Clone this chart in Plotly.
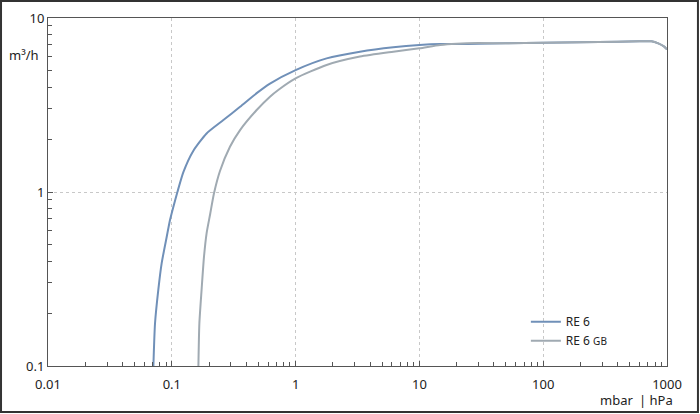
import plotly.graph_objects as go

# RE 6
re6_x = [0.0710, 0.0732, 0.0778, 0.0828, 0.091, 0.0967, 0.103, 0.111, 0.124, 0.149, 0.191, 0.261, 0.356,
         0.485, 0.621, 1.0, 1.78, 3.31, 6.15, 10, 14.7, 20, 30, 50, 100, 200, 400, 600, 750, 850, 950, 1000]
re6_y = [0.1, 0.176, 0.274, 0.389, 0.553, 0.690, 0.824, 1.0, 1.30, 1.72, 2.17, 2.59, 3.09,
         3.7, 4.2, 5.02, 5.86, 6.40, 6.79, 7.0, 7.09, 7.08, 7.12, 7.15, 7.2, 7.25, 7.3, 7.35, 7.35, 7.15, 6.85, 6.6]

# RE 6 GB
gb_x = [0.164, 0.167, 0.174, 0.182, 0.191, 0.204, 0.219, 0.245, 0.295, 0.356, 0.485, 0.621, 0.724, 1.0,
        1.78, 3.31, 6.15, 10, 14.7, 20, 30, 50, 100, 200, 400, 600, 750, 850, 950, 1000]
gb_y = [0.1, 0.176, 0.274, 0.425, 0.579, 0.745, 0.98, 1.32, 1.82, 2.27, 2.96, 3.53, 3.86, 4.50,
        5.37, 6.0, 6.40, 6.70, 7.0, 7.12, 7.18, 7.15, 7.2, 7.25, 7.3, 7.35, 7.35, 7.15, 6.85, 6.6]

x_ticks = [0.01, 0.1, 1, 10, 100, 1000]
x_ticktext = ["0.01", "0.1", "1", "10", "100", "1000"]
y_ticks = [0.1, 1, 10]
y_ticktext = ["0.1", "1", "10"]

x_minor = [m * 10 ** e for e in range(-2, 3) for m in range(2, 10)]
y_minor = [m * 10 ** e for e in range(-1, 1) for m in range(2, 10)]

FONT = "Noto Sans, Open Sans, sans-serif"

fig = go.Figure()
fig.add_trace(go.Scatter(x=re6_x, y=re6_y, mode="lines", name="RE 6",
                         line=dict(color="#7090b8", width=2, shape="spline", smoothing=0.6)))
fig.add_trace(go.Scatter(x=gb_x, y=gb_y, mode="lines",
                         name="RE 6 <span style='font-size:10px'>GB</span>",
                         line=dict(color="#a0aab2", width=2, shape="spline", smoothing=0.6)))

axis_common = dict(
    type="log", showline=True, linecolor="#555", linewidth=1, mirror=True,
    ticks="inside", ticklen=5, tickcolor="#555",
    showgrid=True, gridcolor="#c8c8c8", griddash="dot", gridwidth=1,
    zeroline=False, tickfont=dict(size=13, color="#222", family=FONT),
)

fig.update_xaxes(range=[-2, 3], tickvals=x_ticks, ticktext=x_ticktext, ticklabelstandoff=6,
                 minor=dict(tickvals=x_minor, ticks="inside", ticklen=4, tickcolor="#555", showgrid=False),
                 **axis_common)
fig.update_yaxes(range=[-1, 1], tickvals=y_ticks, ticktext=y_ticktext,
                 minor=dict(tickvals=y_minor, ticks="inside", ticklen=4, tickcolor="#555", showgrid=False),
                 **axis_common)

fig.update_layout(
    width=700, height=414,
    margin=dict(l=48, r=33, t=18, b=48, autoexpand=False),
    paper_bgcolor="white", plot_bgcolor="white",
    font=dict(family=FONT, size=13, color="#222"),
    showlegend=True,
    legend=dict(x=0.772, y=0.10, xanchor="left", yanchor="middle",
                bgcolor="rgba(0,0,0,0)", font=dict(size=12, color="#222"),
                itemwidth=30, tracegroupgap=0),
    annotations=[
        dict(text="m³/h", xref="paper", yref="paper", x=-0.012, y=0.894,
             xanchor="right", yanchor="middle", showarrow=False,
             font=dict(size=13, color="#222")),
        dict(text="mbar", xref="paper", yref="paper", x=0.948, y=-0.098,
             xanchor="right", yanchor="middle", showarrow=False,
             font=dict(size=13, color="#222")),
        dict(text="| hPa", xref="paper", yref="paper", x=0.952, y=-0.098,
             xanchor="left", yanchor="middle", showarrow=False,
             font=dict(size=13, color="#222")),
    ],
    shapes=[
        dict(type="rect", xref="paper", yref="paper",
             x0=-0.0759, x1=1.050, y0=-0.1322, y1=1.049,
             line=dict(color="#333", width=2), fillcolor="rgba(0,0,0,0)", layer="below"),
    ],
)

fig.write_html("out.html", config={"displayModeBar": False, "displaylogo": False, "staticPlot": True},
               post_script="document.body.style.margin='0';document.body.style.overflow='hidden';")
